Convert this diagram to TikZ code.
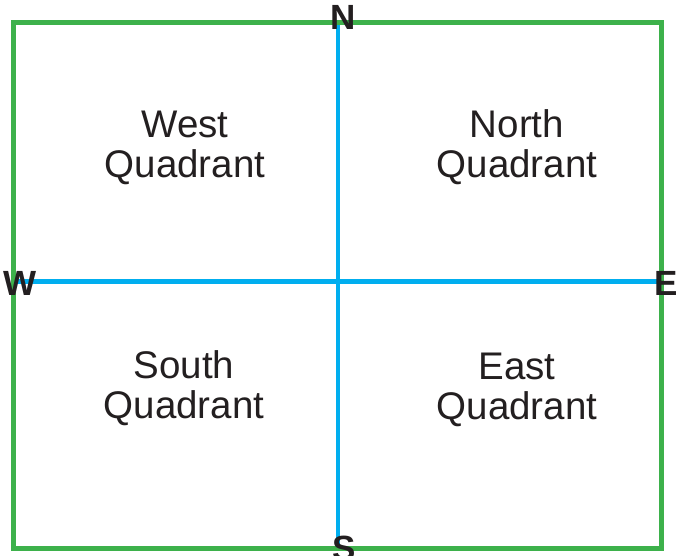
\documentclass[tikz,border=0pt]{standalone}
\usepackage{fontspec}
\setmainfont{Liberation Sans}
\definecolor{framegreen}{HTML}{3DB14B}
\definecolor{axisblue}{HTML}{00AEEF}
\definecolor{inkgray}{HTML}{231F20}
\begin{document}
\begin{tikzpicture}[x=1pt,y=-1pt,
  frame/.style={draw=framegreen,line width=5pt},
  axis/.style={draw=axisblue,line width=4.5pt},
  compass/.style={inner sep=0pt,anchor=base,text=inkgray,font=\bfseries\fontsize{35}{35}\selectfont},
  quad/.style={inner sep=0pt,anchor=base,align=center,text=inkgray,font=\fontsize{38.5}{40}\selectfont}]
\useasboundingbox (0,0) rectangle (677,556);
\fill[white] (0,0) rectangle (677,556);
\coordinate (tl) at (13,23);
\coordinate (br) at (661,548.5);
\coordinate (n) at (338,23);
\coordinate (s) at (338,548.5);
\coordinate (w) at (13,281.5);
\coordinate (e) at (661,281.5);
\draw[axis] (n) -- (s);
\draw[axis] (w) -- (e);
\draw[frame] (tl) rectangle (br);
\node[compass] (lN) at (343,30) {N};
\node[compass] (lS) at (344,560) {S};
\node[compass] (lW) at (20,295) {W};
\node[compass] (lE) at (666,295) {E};
\node[quad] (qW) at (185,178) {West\\Quadrant};
\node[quad] (qN) at (517,178) {North\\Quadrant};
\node[quad] (qS) at (184,418) {South\\Quadrant};
\node[quad] (qE) at (517,419) {East\\Quadrant};
\end{tikzpicture}
\end{document}
